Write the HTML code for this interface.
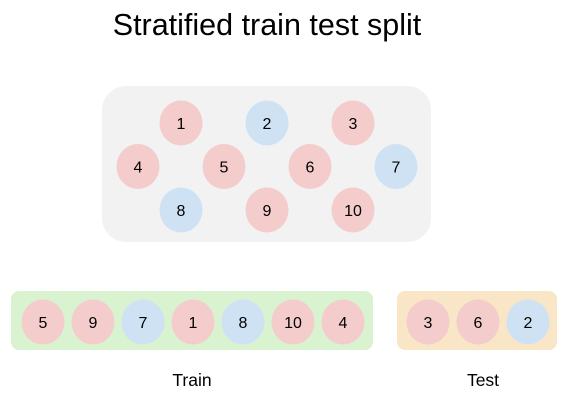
<!DOCTYPE html>
<html><head><meta charset="utf-8"><style>
html,body{margin:0;padding:0;background:#fff;}
svg{display:block;font-family:"Liberation Sans",Arial,sans-serif;}
</style></head><body>
<svg width="564" height="405" viewBox="0 0 564 405">
<text x="267" y="35" font-size="30.5" text-anchor="middle" fill="#000">Stratified train test split</text>
<rect x="102" y="86" width="329" height="156" rx="24" fill="#f2f2f2"/>
<rect x="11" y="291" width="362" height="59" rx="8" fill="#d9f2d0"/>
<rect x="397" y="291" width="160" height="59" rx="8" fill="#f8e6c6"/>
<text x="192" y="386" font-size="17.5" text-anchor="middle">Train</text>
<text x="483" y="386" font-size="17.5" text-anchor="middle">Test</text>
<g id="marks"></g>
</svg>
<script>
const sampleIds=[1,2,3,4,5,6,7,8,9,10];
const sampleClass=["a","b","a","a","a","a","b","b","a","a"];
const trainOrder=[5,9,7,1,8,10,4];
const testOrder=[3,6,2];
const gridPos={1:[1,0],2:[3,0],3:[5,0],4:[0,1],5:[2,1],6:[4,1],7:[6,1],8:[1,2],9:[3,2],10:[5,2]};
const NS="http://www.w3.org/2000/svg";
const g=document.getElementById('marks');
function col(id){return sampleClass[sampleIds.indexOf(id)]==="b"?"#cfe2f3":"#f4cccc";}
function circle(cx,cy,id,name){
 const e=document.createElementNS(NS,'ellipse');
 e.setAttribute('cx',cx);e.setAttribute('cy',cy);e.setAttribute('rx',21.5);e.setAttribute('ry',22.5);e.setAttribute('fill',col(id));
 
 
 g.appendChild(e);
 const t=document.createElementNS(NS,'text');
 t.setAttribute('x',cx);t.setAttribute('y',cy+6);t.setAttribute('font-size','16');t.setAttribute('text-anchor','middle');
 t.textContent=id;
 
 
 g.appendChild(t);
}
sampleIds.forEach(id=>{const p=gridPos[id];circle(138+p[0]*43,123+p[1]*43.5,id,'sample-'+id);});
trainOrder.forEach((id,i)=>circle(43+i*50,322,id,'train-sample-'+id));
testOrder.forEach((id,i)=>circle(428+i*50,322,id,'test-sample-'+id));
</script>
</body></html>
